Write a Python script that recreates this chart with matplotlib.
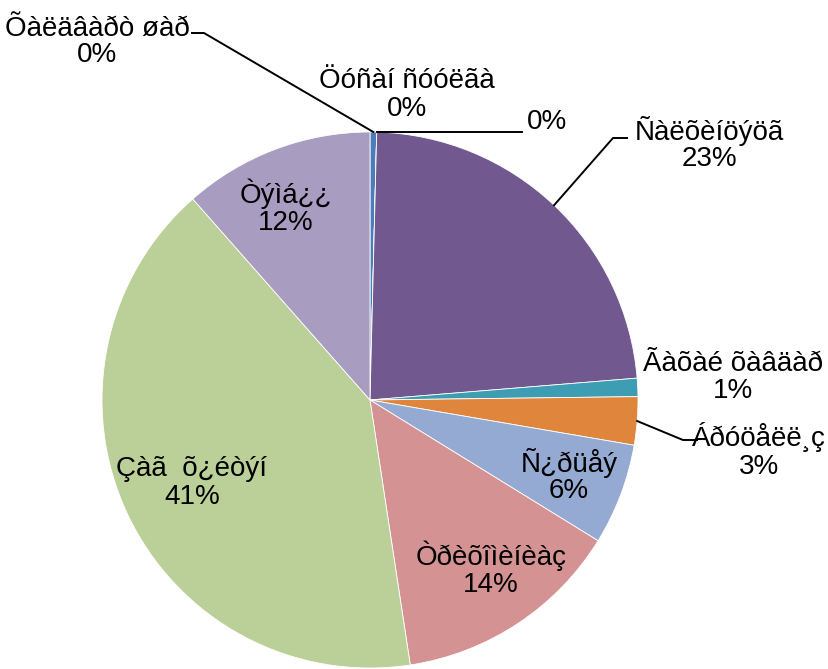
import numpy as np
import matplotlib.pyplot as plt

plt.rcParams["font.family"] = ["Liberation Sans", "DejaVu Sans"]

# slice order: clockwise from 12 o'clock
labels = ["Õàëäâàðò øàð", "Öóñàí ñóóëãà", "", "Ñàëõèíöýöã", "Ãàõàé õàâäàð",
          "Áðóöåëë¸ç", "Ñ¿ðüåý", "Òðèõîìèíèàç", "Çàã  õ¿éòýí", "Òýìá¿¿"]
values = [0.4, 0.0, 0.0, 23.3, 1.1, 2.9, 6.1, 13.8, 40.9, 11.5]
pct_text = ["0%", "0%", "0%", "23%", "1%", "3%", "6%", "14%", "41%", "12%"]
colors = ["#4A7DBA", "#C0504D", "#9BBB59", "#71588F", "#3C9DB3",
          "#E0853C", "#95AAD2", "#D49293", "#BBCF98", "#A99CC1"]

W, H = 829, 669
cx, cy, R = 370, H - 400, 268

fig = plt.figure(figsize=(W / 100, H / 100), dpi=100)
ax = fig.add_axes([0, 0, 1, 1])
wedges, _ = ax.pie(values, colors=colors, startangle=90, counterclock=False,
                   center=(cx, cy), radius=R, frame=True,
                   wedgeprops=dict(edgecolor="white", linewidth=0.6))
ax.set_xlim(0, W)
ax.set_ylim(0, H)
ax.set_aspect("equal")
ax.axis("off")

# label centres in pixel coords (top-left origin)
label_pos = [(97, 42), (407, 95), (547, 122), (709, 144), (733, 378),
             (759, 451), (569, 476), (491, 569), (192, 483), (286, 207)]

fs = 20
for name, pct, (lx, ly) in zip(labels, pct_text, label_pos):
    txt = f"{name}\n{pct}" if name else pct
    ax.text(lx, H - ly, txt, ha="center", va="center", fontsize=fs,
            linespacing=1.05)


def edge_point(i, frac=1.0):
    w = wedges[i]
    ang = np.deg2rad((w.theta1 + w.theta2) / 2)
    return cx + frac * R * np.cos(ang), cy + frac * R * np.sin(ang)


line_kw = dict(color="black", linewidth=1.4)

# Õàëäâàðò øàð
px, py = edge_point(0)
ax.plot([192, 204, px], [H - 33, H - 33, py], **line_kw)
# unnamed 0%
px, py = edge_point(2)
ax.plot([px, 522], [py, py], **line_kw)
# Ñàëõèíöýöã
px, py = edge_point(3)
ax.plot([px, 613, 627], [py, H - 138, H - 138], **line_kw)
# Áðóöåëë¸ç
px, py = edge_point(5)
ax.plot([px, 683, 697], [py, H - 440, H - 440], **line_kw)

fig.savefig("out.png", dpi=100)
